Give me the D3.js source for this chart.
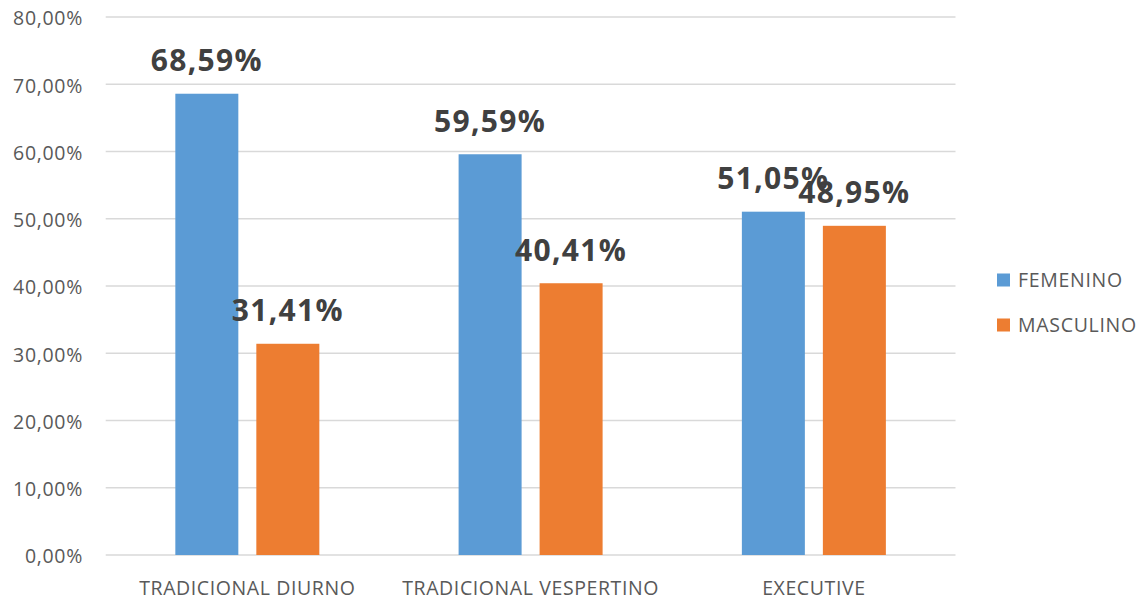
<!DOCTYPE html>
<html><head><meta charset="utf-8">
<script src="https://cdn.jsdelivr.net/npm/d3@7"></script>
<style>body{margin:0;background:#fff}svg{display:block}text{font-family:"Open Sans",sans-serif}</style>
</head><body><svg id="c" width="1140" height="600"></svg>
<script>
const categories = ["TRADICIONAL DIURNO", "TRADICIONAL VESPERTINO", "EXECUTIVE"];
const seriesNames = ["FEMENINO", "MASCULINO"];
const femenino = [68.59, 59.59, 51.05];
const masculino = [31.41, 40.41, 48.95];
const femLabels = ["68,59%", "59,59%", "51,05%"];
const mascLabels = ["31,41%", "40,41%", "48,95%"];
const yTicks = [0, 10, 20, 30, 40, 50, 60, 70, 80];
const yTickLabels = ["0,00%", "10,00%", "20,00%", "30,00%", "40,00%", "50,00%", "60,00%", "70,00%", "80,00%"];
const colors = ["#5B9BD5", "#ED7D31"];

const svg = d3.select("#c");
const L = 105.7, R = 955.5, T = 17, B = 555;
const y = d3.scaleLinear().domain([0, 80]).range([B, T]);
const x0 = d3.scaleBand().domain(categories).range([L, R]);
const bw = x0.bandwidth();
const pI = 18 / 81;
const pO = (bw / 81 - 2 + pI) / 2;
const x1 = d3.scaleBand().domain(seriesNames).range([0, bw]).paddingInner(pI).paddingOuter(pO);

// gridlines
svg.append("g").selectAll("line").data(yTicks).join("line")
  .attr("x1", L).attr("x2", R).attr("y1", d => y(d)).attr("y2", d => y(d))
  .attr("stroke", "#D9D9D9").attr("stroke-width", 1.3);

// y axis labels
const yAxis = d3.axisLeft(y).tickValues(yTicks).tickSize(0).tickPadding(0)
  .tickFormat((d, i) => yTickLabels[i]);
const ya = svg.append("g").attr("transform", "translate(83,0)").call(yAxis);
ya.select(".domain").remove();
ya.selectAll("text").attr("font-size", 19.5).attr("fill", "#595959").attr("letter-spacing", 0.7)
  .attr("font-family", "'Open Sans',sans-serif").attr("dy", "0.4em");

// x axis labels
const xAxis = d3.axisBottom(x0).tickSize(0).tickPadding(0);
const xa = svg.append("g").attr("transform", "translate(0,595)").call(xAxis);
xa.select(".domain").remove();
xa.selectAll("text").attr("font-size", 19.5).attr("fill", "#595959").attr("letter-spacing", 0.6)
  .attr("font-family", "'Open Sans',sans-serif").attr("dy", "0");

const data = categories.map((c, i) => ({ cat: c, vals: [
  { s: seriesNames[0], v: femenino[i], lab: femLabels[i], col: colors[0] },
  { s: seriesNames[1], v: masculino[i], lab: mascLabels[i], col: colors[1] }] }));

const g = svg.append("g").selectAll("g").data(data).join("g")
  .attr("transform", d => `translate(${x0(d.cat)},0)`);
g.selectAll("rect").data(d => d.vals).join("rect")
  .attr("x", d => x1(d.s)).attr("width", x1.bandwidth())
  .attr("y", d => y(d.v)).attr("height", d => y(0) - y(d.v))
  .attr("fill", d => d.col);
g.selectAll("text.lab").data(d => d.vals).join("text").attr("class", "lab")
  .attr("x", d => x1(d.s) + x1.bandwidth() / 2).attr("y", d => y(d.v) - 22.5)
  .attr("text-anchor", "middle").attr("font-size", 30).attr("font-weight", "bold")
  .attr("letter-spacing", 1.3)
  .attr("fill", "#404040").text(d => d.lab);

// legend
const lg = svg.append("g").selectAll("g").data(seriesNames).join("g")
  .attr("transform", (d, i) => `translate(997,${273.5 + i * 45})`);
lg.append("rect").attr("width", 13).attr("height", 13).attr("fill", (d, i) => colors[i]);
lg.append("text").attr("x", 21).attr("y", 13.3)
  .attr("font-size", 19.5).attr("fill", "#595959").attr("letter-spacing", 0.7).text(d => d);
</script></body></html>
